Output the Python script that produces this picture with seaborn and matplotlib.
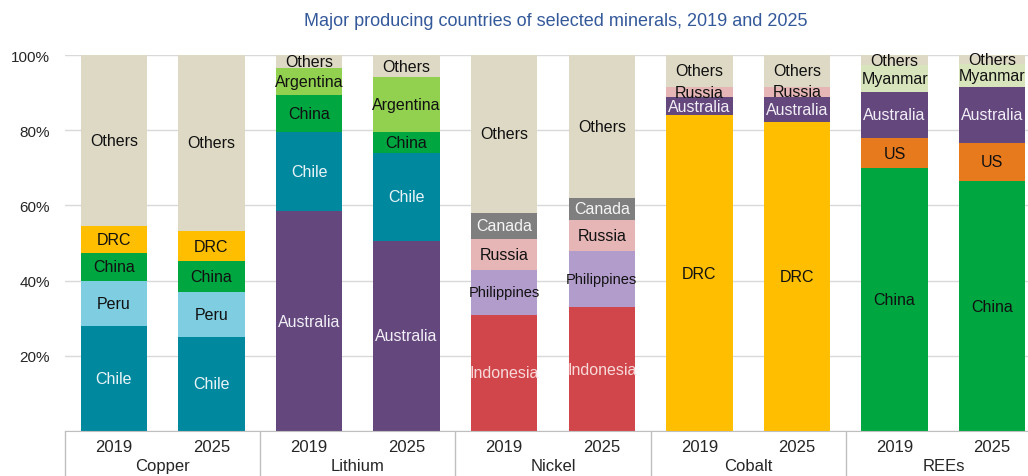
import pandas as pd
import numpy as np
import matplotlib
matplotlib.use("Agg")
import matplotlib.pyplot as plt
import matplotlib.transforms as mtrans
import seaborn as sns

# shares in %, listed from the bottom of each bar upwards
minerals = ["Copper", "Lithium", "Nickel", "Cobalt", "REEs"]
years = ["2019", "2025"]

copper_countries = ["Chile", "Peru", "China", "DRC", "Others"]
copper_2019 = [27.9, 12.0, 7.5, 7.0, 45.6]
copper_2025 = [25.1, 12.0, 8.0, 8.2, 46.7]

lithium_countries = ["Australia", "Chile", "China", "Argentina", "Others"]
lithium_2019 = [58.4, 21.2, 9.8, 7.1, 3.5]
lithium_2025 = [50.6, 23.4, 5.5, 14.6, 5.9]

nickel_countries = ["Indonesia", "Philippines", "Russia", "Canada", "Others"]
nickel_2019 = [30.9, 11.9, 8.3, 6.9, 42.0]
nickel_2025 = [32.9, 15.1, 8.1, 5.9, 38.0]

cobalt_countries = ["DRC", "Australia", "Russia", "Others"]
cobalt_2019 = [84.0, 4.7, 2.9, 8.4]
cobalt_2025 = [82.3, 6.6, 2.7, 8.4]

rees_countries = ["China", "US", "Australia", "Myanmar", "Others"]
rees_2019 = [69.9, 8.0, 12.3, 7.1, 2.7]
rees_2025 = [66.4, 10.3, 14.7, 6.2, 2.4]

colors = {
    "Chile": "#00889F", "Peru": "#7ECDE0", "China": "#00A640", "DRC": "#FFBE00",
    "Others": "#DDD9C4", "Australia": "#63477D", "Argentina": "#92D050",
    "Indonesia": "#D1464A", "Philippines": "#B29CCC", "Russia": "#E6B5B5",
    "Canada": "#7F7F7F", "US": "#E87A1E", "Myanmar": "#D8E4BC",
}
text_colors = {"Chile": "#EAF4F7", "Australia": "#F2EEF6", "Indonesia": "#F7D9DA",
               "Canada": "#F5F5F5"}

groups = [
    (copper_countries, [copper_2019, copper_2025]),
    (lithium_countries, [lithium_2019, lithium_2025]),
    (nickel_countries, [nickel_2019, nickel_2025]),
    (cobalt_countries, [cobalt_2019, cobalt_2025]),
    (rees_countries, [rees_2019, rees_2025]),
]

rows = []
slots = []
for m, (countries, series) in zip(minerals, groups):
    for yr, vals in zip(years, series):
        slot = f"{m} {yr}"
        slots.append(slot)
        cum = np.cumsum(vals)
        for j, (c, v) in enumerate(zip(countries, vals)):
            rows.append(dict(slot=slot, layer=j, country=c, share=v,
                             bottom=cum[j] - v, top=cum[j]))
df = pd.DataFrame(rows)

sns.set_style("white")
plt.rcParams["font.family"] = ["Liberation Sans", "DejaVu Sans"]

fig = plt.figure(figsize=(10.28, 4.77), dpi=100)
ax = fig.add_axes([65 / 1028, 45 / 477, 976 / 1028, 376 / 477])

# stacked bars: draw cumulative heights from the top layer down
for j in sorted(df["layer"].unique(), reverse=True):
    sub = df[df["layer"] == j]
    pal = dict(zip(sub["slot"], sub["country"].map(colors)))
    sns.barplot(data=sub, x="slot", y="top", hue="slot", order=slots,
                palette=pal, width=0.68, linewidth=0, saturation=1,
                errorbar=None, legend=False, ax=ax)

for _, r in df.iterrows():
    i = slots.index(r["slot"])
    fs = 10.5 if r["country"] == "Philippines" else 11.5
    ax.text(i, r["bottom"] + r["share"] / 2, r["country"], ha="center",
            va="center", fontsize=fs,
            color=text_colors.get(r["country"], "#111111"))

ax.set_xlim(-0.5, len(slots) - 0.5)
ax.set_ylim(0, 100)
ax.set_yticks([0, 20, 40, 60, 80, 100])
ax.set_yticklabels(["", "20%", "40%", "60%", "80%", "100%"])
ax.set_xticks(range(len(slots)))
ax.set_xticklabels([s.split()[1] for s in slots])
ax.tick_params(axis="y", length=0, pad=11, labelsize=11, labelcolor="#262626")
ax.tick_params(axis="x", length=0, pad=6, labelsize=12, labelcolor="#262626")
ax.set_xlabel("")
ax.set_ylabel("")
ax.yaxis.grid(True, color="#D9D9D9", linewidth=1)
ax.set_axisbelow(True)
for s in ["left", "top", "right"]:
    ax.spines[s].set_visible(False)
ax.spines["bottom"].set_color("#BFBFBF")

# group separators and mineral names under the axis
trans = mtrans.blended_transform_factory(ax.transData, ax.transAxes)
for k in range(len(minerals) + 1):
    ax.plot([2 * k - 0.5, 2 * k - 0.5], [0, -0.2], transform=trans,
            color="#BFBFBF", linewidth=1, clip_on=False)
for k, m in enumerate(minerals):
    ax.text(2 * k + 0.5, -35 / 376, m, transform=trans, ha="center",
            va="center", fontsize=12, color="#262626")

fig.text(556 / 1028, 1 - 22 / 477,
         "Major producing countries of selected minerals, 2019 and 2025",
         ha="center", va="center", fontsize=13, color="#34599A")

fig.savefig("out.png", dpi=100)
